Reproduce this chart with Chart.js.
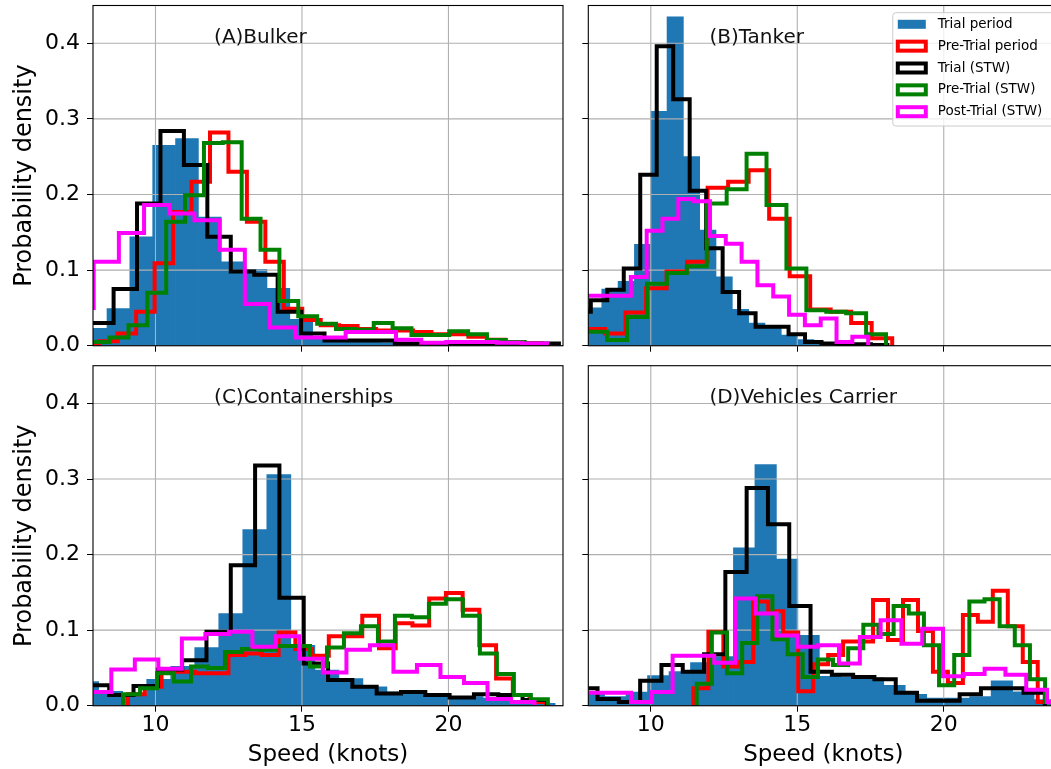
<!DOCTYPE html>
<html>
<head>
<meta charset="utf-8">
<title>Speed distributions</title>
<script src="https://cdn.jsdelivr.net/npm/chart.js@4.4.0/dist/chart.umd.min.js"></script>
<style>
  html, body { margin: 0; padding: 0; background: #fff; overflow: hidden; }
  #wrap { position: relative; width: 1051px; height: 769px; overflow: hidden; }
  canvas { position: absolute; }
</style>
</head>
<body>
<div id="wrap">
  <canvas id="bulker" width="580" height="360" style="left:0;top:0"></canvas>
  <canvas id="tanker" width="500" height="360" style="left:575px;top:0"></canvas>
  <canvas id="container" width="580" height="409" style="left:0;top:360px"></canvas>
  <canvas id="carrier" width="500" height="409" style="left:575px;top:360px"></canvas>
</div>
<script>
// Axes
const speedTicks = [10, 15, 20];
const densityTicks = [0, 0.1, 0.2, 0.3, 0.4];
const speedMin = 7.867, speedMax = 23.91;
const densityMax = 0.45;

const seriesNames = ['Trial period', 'Pre-Trial period', 'Trial (STW)', 'Pre-Trial (STW)', 'Post-Trial (STW)'];
const seriesColors = ['#1f77b4', '#ff0000', '#000000', '#008000', '#ff00ff'];

// first bin edge and bin width (knots), same order as seriesNames
const bulkerBins = [[7.565, 0.78], [7.45, 0.63], [7.77, 0.8], [7.79, 0.644], [7.03, 0.86]];
const bulkerTrial = [0.023, 0.049, 0.144, 0.265, 0.274, 0.17, 0.111, 0.101, 0.076, 0.035, 0.012, 0.007, 0.005, 0.004, 0.003, 0.003, 0.002, 0.002, 0.001];
const bulkerPre = [0.003, 0.006, 0.016, 0.045, 0.109, 0.177, 0.217, 0.282, 0.230, 0.164, 0.111, 0.049, 0.034, 0.027, 0.026, 0.022, 0.02, 0.02, 0.018, 0.015, 0.015, 0.012, 0.008, 0.005, 0.003];
const bulkerTrialStw = [0.03, 0.075, 0.188, 0.284, 0.239, 0.144, 0.098, 0.094, 0.045, 0.016, 0.007, 0.007, 0.007, 0.003, 0.003, 0.003, 0.003, 0.003, 0.003, 0.003];
const bulkerPreStw = [0.005, 0.011, 0.027, 0.070, 0.164, 0.199, 0.268, 0.269, 0.168, 0.127, 0.059, 0.039, 0.029, 0.022, 0.021, 0.030, 0.023, 0.014, 0.014, 0.019, 0.015, 0.0075, 0.005];
const bulkerPostStw = [0.05, 0.111, 0.149, 0.186, 0.175, 0.166, 0.127, 0.055, 0.024, 0.011, 0.011, 0.018, 0.018, 0.008, 0.004, 0.005, 0.005, 0.004, 0.003];

const tankerBins = [[7.77, 0.557], [7.74, 0.7], [7.39, 0.5625], [7.83, 0.68], [7.70, 0.54]];
const tankerTrial = [0.05, 0.075, 0.085, 0.134, 0.31, 0.435, 0.25, 0.153, 0.091, 0.048, 0.03, 0.027, 0.014, 0.008, 0.004, 0.002, 0.001];
const tankerPre = [0.022, 0.016, 0.044, 0.076, 0.098, 0.111, 0.209, 0.217, 0.232, 0.168, 0.092, 0.048, 0.045, 0.030, 0.0097];
const tankerTrialStw = [0.045, 0.06, 0.074, 0.102, 0.226, 0.396, 0.326, 0.205, 0.129, 0.071, 0.043, 0.025, 0.025, 0.015, 0.005, 0.003, 0.002, 0.002, 0.001];
const tankerPreStw = [0.0185, 0.0075, 0.038, 0.082, 0.096, 0.105, 0.188, 0.207, 0.254, 0.186, 0.102, 0.047, 0.045, 0.043, 0.015];
const tankerPostStw = [0.066, 0.066, 0.066, 0.091, 0.152, 0.168, 0.194, 0.191, 0.145, 0.135, 0.111, 0.080, 0.065, 0.041, 0.027, 0.036, 0.005, 0.012];

const containerBins = [[7.24, 0.82], [9.064, 0.571], [7.59, 0.83], [8.893, 0.58], [7.69, 0.8025]];
const containerTrial = [0.032, 0.019, 0.014, 0.035, 0.052, 0.077, 0.122, 0.233, 0.306, 0.080, 0.047, 0.036, 0.025, 0.018, 0.015, 0.012, 0.012, 0.01, 0.007, 0.003];
const containerPre = [0.015, 0.025, 0.045, 0.045, 0.043, 0.043, 0.067, 0.069, 0.067, 0.097, 0.075, 0.066, 0.092, 0.092, 0.119, 0.076, 0.109, 0.106, 0.142, 0.149, 0.127, 0.080, 0.036, 0.014, 0.005];
const containerTrialStw = [0.027, 0.014, 0.026, 0.048, 0.060, 0.098, 0.186, 0.318, 0.143, 0.056, 0.034, 0.025, 0.016, 0.018, 0.014, 0.011, 0.015, 0.014, 0.0075];
const containerPreStw = [0.015, 0.023, 0.043, 0.032, 0.052, 0.05, 0.071, 0.075, 0.074, 0.079, 0.079, 0.052, 0.077, 0.096, 0.105, 0.085, 0.119, 0.117, 0.135, 0.141, 0.119, 0.069, 0.042, 0.014, 0.0084];
const containerPostStw = [0.018, 0.048, 0.061, 0.049, 0.089, 0.095, 0.098, 0.078, 0.092, 0.062, 0.044, 0.074, 0.080, 0.045, 0.054, 0.038, 0.030, 0.0088, 0.005];

const carrierBins = [[7.69, 0.733], [11.455, 0.511], [7.456, 0.727], [11.568, 0.517], [7.195, 0.71]];
const carrierTrial = [0.015, 0.012, 0.018, 0.04, 0.045, 0.057, 0.065, 0.209, 0.319, 0.194, 0.093, 0.039, 0.038, 0.037, 0.027, 0.015, 0.01, 0.01, 0.012, 0.033, 0.0185, 0.008];
const carrierPre = [0.023, 0.098, 0.052, 0.058, 0.138, 0.125, 0.097, 0.019, 0.055, 0.067, 0.085, 0.085, 0.14, 0.087, 0.14, 0.099, 0.045, 0.030, 0.120, 0.111, 0.152, 0.105, 0.058, 0.005];
const carrierTrialStw = [0.023, 0.009, 0.005, 0.033, 0.054, 0.045, 0.068, 0.177, 0.288, 0.240, 0.132, 0.045, 0.041, 0.038, 0.035, 0.017, 0.0066, 0.0066, 0.015, 0.023, 0.023, 0.017];
const carrierPreStw = [0.029, 0.097, 0.043, 0.083, 0.145, 0.088, 0.068, 0.038, 0.061, 0.054, 0.076, 0.107, 0.095, 0.132, 0.122, 0.080, 0.027, 0.067, 0.138, 0.141, 0.105, 0.080, 0.035, 0.005];
const carrierPostStw = [0.017, 0.017, 0.017, 0.005, 0.018, 0.066, 0.066, 0.057, 0.142, 0.122, 0.093, 0.078, 0.080, 0.056, 0.091, 0.113, 0.082, 0.102, 0.039, 0.042, 0.049, 0.041, 0.021, 0.005];

Chart.defaults.font.family = '"DejaVu Sans", sans-serif';
Chart.defaults.color = '#000';

// bar centres for the filled histogram
function barPoints(bin, heights) {
    return heights.map((h, i) => ({ x: bin[0] + (i + 0.5) * bin[1], y: h }));
}

// outline of a step histogram: up from 0 at the first edge, down to 0 at the last
function stepPoints(bin, heights) {
    const pts = [{ x: bin[0], y: 0 }];
    heights.forEach((h, i) => pts.push({ x: bin[0] + i * bin[1], y: h }));
    pts.push({ x: bin[0] + heights.length * bin[1], y: 0 });
    return pts;
}

function stepSet(k, bins, heights) {
    return {
        type: 'line',
        label: seriesNames[k],
        data: stepPoints(bins[k], heights),
        borderColor: seriesColors[k],
        borderWidth: 4,
        stepped: true,
        pointRadius: 0,
        fill: false,
        tension: 0,
        order: 5 - k
    };
}

function drawLegend(ctx, a) {
    const bx = a.right - 165.5, by = a.top + 7.2;
    ctx.save();
    ctx.fillStyle = 'rgba(255,255,255,0.8)';
    ctx.strokeStyle = '#cccccc';
    ctx.lineWidth = 1;
    ctx.beginPath();
    ctx.roundRect(bx, by, 190, 113.3, 3);
    ctx.fill();
    ctx.stroke();
    ctx.font = '13.5px "DejaVu Sans"';
    ctx.textBaseline = 'middle';
    ctx.textAlign = 'left';
    seriesNames.forEach((name, k) => {
        const cy = by + 11.6 + k * 21.85;
        if (k === 0) {
            ctx.fillStyle = seriesColors[0];
            ctx.fillRect(bx + 5, cy - 4.5, 28, 9);
        } else {
            ctx.strokeStyle = seriesColors[k];
            ctx.lineWidth = 4;
            ctx.strokeRect(bx + 5, cy - 4.5, 28, 9);
        }
        ctx.fillStyle = '#000';
        ctx.fillText(name, bx + 45, cy);
    });
    ctx.restore();
}

function makePanel(id, p) {
    const [trial, pre, stw, preStw, postStw] = p.series;
    const datasets = [
        {
            type: 'bar',
            label: seriesNames[0],
            data: barPoints(p.bins[0], trial),
            backgroundColor: seriesColors[0],
            borderWidth: 0,
            barPercentage: 1,
            categoryPercentage: 1,
            order: 10
        },
        stepSet(1, p.bins, pre),
        stepSet(2, p.bins, stw),
        stepSet(3, p.bins, preStw),
        stepSet(4, p.bins, postStw)
    ];

    const decor = {
        id: 'decor',
        afterDatasetDraw(chart, args) {
            // grid goes over the filled bars but under the outlines
            if (args.index !== 0) return;
            const { ctx, chartArea: a, scales: { x, y } } = chart;
            ctx.save();
            ctx.strokeStyle = '#b0b0b0';
            ctx.lineWidth = 1.1;
            ctx.beginPath();
            speedTicks.forEach(v => {
                const px = x.getPixelForValue(v);
                ctx.moveTo(px, a.top);
                ctx.lineTo(px, a.bottom);
            });
            densityTicks.forEach(v => {
                const py = y.getPixelForValue(v);
                ctx.moveTo(a.left, py);
                ctx.lineTo(a.right, py);
            });
            ctx.stroke();
            ctx.restore();
        },
        afterDatasetsDraw(chart) {
            const { ctx, chartArea: a, scales: { x, y } } = chart;
            ctx.save();
            ctx.strokeStyle = '#000';
            ctx.lineWidth = 1.1;
            ctx.strokeRect(a.left, a.top, a.right - a.left, a.bottom - a.top);
            ctx.font = '20px "DejaVu Sans"';
            ctx.fillStyle = '#111';
            ctx.textAlign = 'left';
            ctx.textBaseline = 'alphabetic';
            ctx.fillText(p.title, x.getPixelForValue(12), y.getPixelForValue(0.4));
            ctx.restore();
        },
        afterDraw(chart) {
            if (p.legend) drawLegend(chart.ctx, chart.chartArea);
        }
    };

    return new Chart(document.getElementById(id), {
        type: 'bar',
        data: { datasets: datasets },
        options: {
            responsive: false,
            animation: false,
            events: [],
            layout: { padding: p.padding },
            plugins: { legend: { display: false }, tooltip: { enabled: false } },
            scales: {
                x: {
                    type: 'linear',
                    min: speedMin,
                    max: speedMax,
                    bounds: 'data',
                    offset: false,
                    afterBuildTicks: s => { s.ticks = speedTicks.map(v => ({ value: v })); },
                    afterFit: s => {
                        s.height = p.xAxisHeight;
                        s.paddingLeft = 0; s.paddingRight = 0; s.paddingTop = 0; s.paddingBottom = 0;
                    },
                    grid: { offset: false, drawOnChartArea: false, drawTicks: true, tickLength: 6, tickColor: '#000', tickWidth: 1 },
                    border: { display: false },
                    ticks: {
                        color: p.xLabels ? '#000' : 'rgba(0,0,0,0)',
                        font: { size: 22 },
                        padding: 0,
                        maxRotation: 0,
                        autoSkip: false,
                        callback: v => String(v)
                    },
                    title: {
                        display: p.xLabels,
                        text: 'Speed (knots)',
                        color: '#000',
                        font: { size: 23, lineHeight: 1.2 },
                        padding: { top: 0, bottom: 0 }
                    }
                },
                y: {
                    min: 0,
                    max: densityMax,
                    bounds: 'data',
                    afterBuildTicks: s => { s.ticks = densityTicks.map(v => ({ value: v })); },
                    afterFit: s => {
                        s.width = p.yAxisWidth;
                        s.paddingLeft = 0; s.paddingRight = 0; s.paddingTop = 0; s.paddingBottom = 0;
                    },
                    grid: { drawOnChartArea: false, drawTicks: true, tickLength: 6, tickColor: '#000', tickWidth: 1 },
                    border: { display: false },
                    ticks: {
                        color: p.yLabels ? '#000' : 'rgba(0,0,0,0)',
                        font: { size: 22 },
                        padding: 7,
                        callback: v => v.toFixed(1)
                    },
                    title: {
                        display: p.yLabels,
                        text: 'Probability density',
                        color: '#000',
                        font: { size: 24, lineHeight: 1.2 },
                        padding: { top: 10.6, bottom: 0 }
                    }
                }
            }
        },
        plugins: [decor]
    });
}

makePanel('bulker', {
    title: '(A)Bulker',
    bins: bulkerBins,
    series: [bulkerTrial, bulkerPre, bulkerTrialStw, bulkerPreStw, bulkerPostStw],
    padding: { top: 5.5, right: 17, bottom: 0, left: 0 },
    yAxisWidth: 93, xAxisHeight: 14.3, yLabels: true, xLabels: false, legend: false
});
makePanel('tanker', {
    title: '(B)Tanker',
    bins: tankerBins,
    series: [tankerTrial, tankerPre, tankerTrialStw, tankerPreStw, tankerPostStw],
    padding: { top: 5.5, right: 16.7, bottom: 0, left: 0 },
    yAxisWidth: 13.3, xAxisHeight: 14.3, yLabels: false, xLabels: false, legend: true
});
makePanel('container', {
    title: '(C)Containerships',
    bins: containerBins,
    series: [containerTrial, containerPre, containerTrialStw, containerPreStw, containerPostStw],
    padding: { top: 5.7, right: 17, bottom: 0, left: 0 },
    yAxisWidth: 93, xAxisHeight: 63.3, yLabels: true, xLabels: true, legend: false
});
makePanel('carrier', {
    title: '(D)Vehicles Carrier',
    bins: carrierBins,
    series: [carrierTrial, carrierPre, carrierTrialStw, carrierPreStw, carrierPostStw],
    padding: { top: 5.7, right: 16.7, bottom: 0, left: 0 },
    yAxisWidth: 13.3, xAxisHeight: 63.3, yLabels: false, xLabels: true, legend: false
});
</script>
</body>
</html>
